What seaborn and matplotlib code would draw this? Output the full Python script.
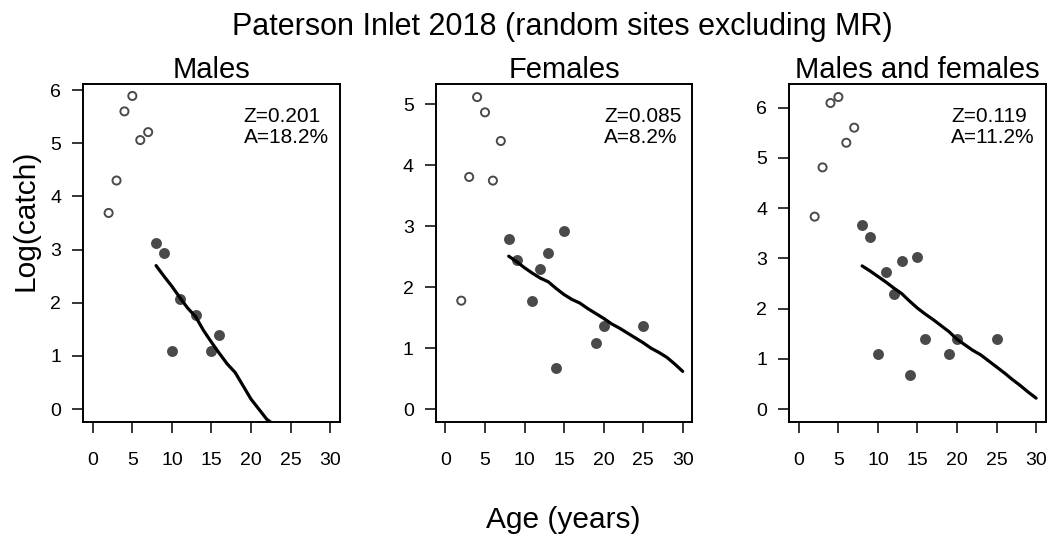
import numpy as np
import pandas as pd
import matplotlib
matplotlib.use("Agg")
import matplotlib.pyplot as plt
import seaborn as sns

# ---------------------------------------------------------------------------
# Data (age in years, log of catch)
# ---------------------------------------------------------------------------
# Males
m_age_pre = [2, 3, 4, 5, 6, 7]
m_log_pre = [3.69, 4.30, 5.60, 5.89, 5.06, 5.21]
m_age = [8, 9, 10, 11, 13, 15, 16]
m_log = [3.12, 2.93, 1.10, 2.07, 1.78, 1.10, 1.39]
m_fit_age = [8, 9, 10, 11, 12, 13, 14, 15, 16, 17, 18, 19, 20, 21, 22, 23]
m_fit = [2.70, 2.50, 2.31, 2.10, 1.90, 1.74, 1.48, 1.26, 1.05, 0.85,
         0.69, 0.44, 0.19, 0.00, -0.19, -0.30]

# Females
f_age_pre = [2, 3, 4, 5, 6, 7]
f_log_pre = [1.78, 3.81, 5.12, 4.87, 3.75, 4.40]
f_age = [8, 9, 11, 12, 13, 14, 15, 19, 20, 25]
f_log = [2.80, 2.45, 1.77, 2.30, 2.56, 0.68, 2.92, 1.08, 1.37, 1.37]
f_fit_age = list(range(8, 31))
f_fit = [2.51, 2.42, 2.32, 2.23, 2.15, 2.09, 1.98, 1.88, 1.80, 1.74, 1.65,
         1.57, 1.49, 1.40, 1.33, 1.25, 1.17, 1.09, 1.00, 0.93, 0.85, 0.74, 0.62]

# Males and females
b_age_pre = [2, 3, 4, 5, 6, 7]
b_log_pre = [3.83, 4.81, 6.09, 6.21, 5.30, 5.60]
b_age = [8, 9, 10, 11, 12, 13, 14, 15, 16, 19, 20, 25]
b_log = [3.66, 3.43, 1.09, 2.72, 2.30, 2.94, 0.68, 3.02, 1.39, 1.09, 1.39, 1.39]
b_fit_age = list(range(8, 31))
b_fit = [2.85, 2.75, 2.64, 2.53, 2.41, 2.30, 2.15, 2.01, 1.89, 1.78, 1.66,
         1.54, 1.39, 1.28, 1.17, 1.08, 0.96, 0.84, 0.72, 0.59, 0.47, 0.34, 0.22]

titles = ["Males", "Females", "Males and females"]
z_vals = ["0.201", "0.085", "0.119"]
a_vals = ["18.2%", "8.2%", "11.2%"]
y_max = [5.88, 5.13, 6.22]
y_ticks = [[0, 1, 2, 3, 4, 5, 6], [0, 1, 2, 3, 4, 5], [0, 1, 2, 3, 4, 5, 6]]
x_ticks = [0, 5, 10, 15, 20, 25, 30]

panels = [
    (m_age_pre, m_log_pre, m_age, m_log, m_fit_age, m_fit),
    (f_age_pre, f_log_pre, f_age, f_log, f_fit_age, f_fit),
    (b_age_pre, b_log_pre, b_age, b_log, b_fit_age, b_fit),
]

# ---------------------------------------------------------------------------
# Plot
# ---------------------------------------------------------------------------
sns.set_style("ticks")
plt.rcParams["font.family"] = ["Liberation Sans", "DejaVu Sans"]
plt.rcParams["text.color"] = "black"
plt.rcParams["xtick.color"] = "black"
plt.rcParams["ytick.color"] = "black"

fig = plt.figure(figsize=(10.48, 5.38), dpi=100)
lefts = [0.0795, 0.416, 0.7532]
width = 0.2445
bottom, height = 0.2162, 0.6277

for i, (apre, lpre, a, l, fa, fl) in enumerate(panels):
    ax = fig.add_axes([lefts[i], bottom, width, height])
    sns.scatterplot(x=apre, y=lpre, ax=ax, marker="o", s=34,
                    facecolor="none", edgecolor="#4a4a4a", linewidth=1.4)
    sns.scatterplot(x=a, y=l, ax=ax, marker="o", s=62,
                    color="#4a4a4a", edgecolor="#4a4a4a", linewidth=0)
    sns.lineplot(x=fa, y=fl, ax=ax, color="black", linewidth=2.3)

    ax.set_xlim(-1.2, 31.2)
    ext = 0.04 * y_max[i]
    ax.set_ylim(-ext, y_max[i] + ext)
    ax.set_xticks(x_ticks)
    ax.set_yticks(y_ticks[i])
    ax.tick_params(axis="both", direction="out", length=8, width=1.1,
                   labelsize=14, color="black", labelcolor="black")
    ax.tick_params(axis="x", pad=14)
    ax.tick_params(axis="y", pad=8)
    for sp in ax.spines.values():
        sp.set_linewidth(1.4)
        sp.set_color("black")
    ax.set_title(titles[i], fontsize=21, pad=3)
    ax.text(0.958, 0.932, f"Z={z_vals[i]}\nA={a_vals[i]}",
            transform=ax.transAxes, ha="right", va="top",
            multialignment="left", fontsize=15, linespacing=1.15)
    ax.set_xlabel("")
    ax.set_ylabel("")

fig.text(0.537, 0.95, "Paterson Inlet 2018 (random sites excluding MR)",
         ha="center", va="center", fontsize=22)
fig.text(0.537, 0.034, "Age (years)", ha="center", va="center", fontsize=21.5)
fig.text(0.024, 0.591, "Log(catch)", ha="center", va="center",
         rotation=90, fontsize=21.5)

fig.savefig("out.png", dpi=100)
